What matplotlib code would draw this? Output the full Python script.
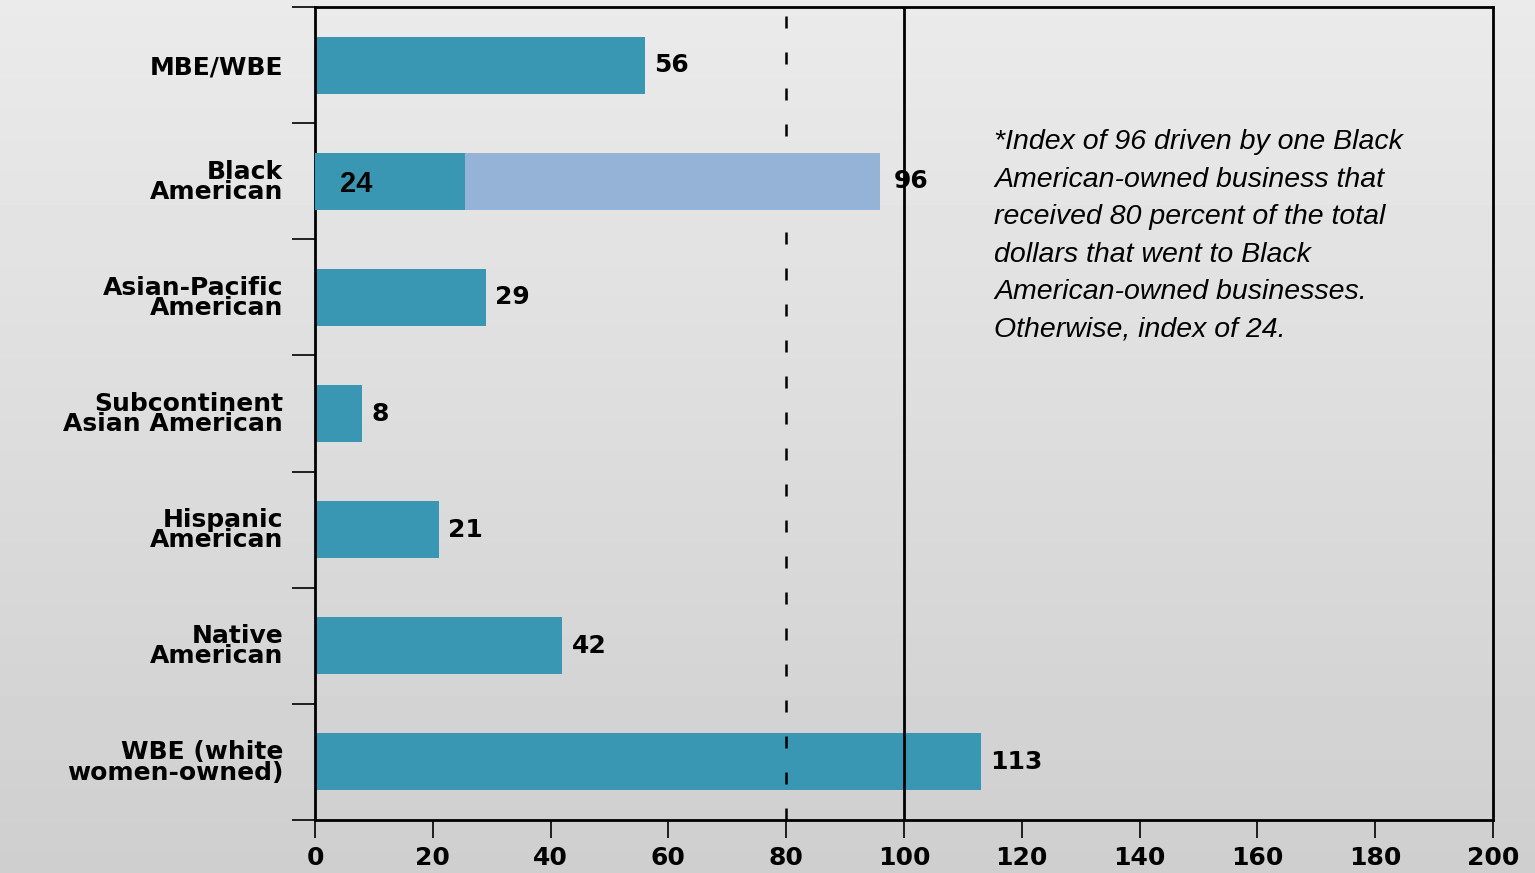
import numpy as np
import matplotlib
matplotlib.use("Agg")
import matplotlib.pyplot as plt

# data
categories = ["MBE/WBE", "Black\nAmerican", "Asian-Pacific\nAmerican",
              "Subcontinent\nAsian American", "Hispanic\nAmerican",
              "Native\nAmerican", "WBE (white\nwomen-owned)"]
values = [56, 96, 29, 8, 21, 42, 113]
black_adjusted = 25.5      # drawn length of the dark segment in row 2
black_adjusted_label = "24"
x_ticks = [0, 20, 40, 60, 80, 100, 120, 140, 160, 180, 200]
note = ("*Index of 96 driven by one Black\n"
        "American-owned business that\n"
        "received 80 percent of the total\n"
        "dollars that went to Black\n"
        "American-owned businesses.\n"
        "Otherwise, index of 24.")

TEAL = "#3a97b4"
LIGHT = "#95b2d7"

fig = plt.figure(figsize=(15.35, 8.73), dpi=100)

# grey gradient background
bg = fig.add_axes([0, 0, 1, 1], zorder=-10)
grad = np.linspace(0.92, 0.81, 256).reshape(-1, 1)
bg.imshow(grad, aspect="auto", cmap="gray", vmin=0, vmax=1, extent=[0, 1, 0, 1])
bg.axis("off")

ax = fig.add_axes([315 / 1535, 1 - 820 / 873, (1493 - 315) / 1535, (820 - 7) / 873])
ax.set_facecolor("none")

y = np.arange(len(categories))
bar_h = 0.49

# teal bars (Black American row gets the light full bar + dark adjusted part)
for i, v in enumerate(values):
    if i == 1:
        ax.barh(i, v, height=bar_h, color=LIGHT, zorder=3)
        ax.barh(i, black_adjusted, height=bar_h, color=TEAL, zorder=3.5)
    else:
        ax.barh(i, v, height=bar_h, color=TEAL, zorder=2)

# reference lines
ax.axvline(80, color="black", lw=1.8, ls=(0, (4.8, 9.6)), zorder=2.5)
ax.axvline(100, color="black", lw=2, zorder=4)

# value labels
for i, v in enumerate(values):
    off = 2.2 if i == 1 else 1.6
    ax.text(v + off, i, str(v), va="center", ha="left", fontsize=18,
            fontweight="bold", family="DejaVu Sans", zorder=5)
ax.text(4.3, 1.02, black_adjusted_label, va="center", ha="left", fontsize=21,
        fontweight="bold", family="Liberation Sans", zorder=5)

ax.text(115.3, 0.55, note, va="top", ha="left", fontsize=20.5, style="italic",
        family="Liberation Sans", linespacing=1.58)

ax.set_xlim(0, 200)
ax.set_ylim(len(categories) - 0.5, -0.5)
ax.set_xticks(x_ticks)
ax.set_xticklabels([str(t) for t in x_ticks], fontsize=18, fontweight="bold")
ax.tick_params(axis="x", length=13, width=1.2, pad=6)

ax.set_yticks(np.arange(len(categories) + 1) - 0.5)
ax.set_yticklabels([])
ax.tick_params(axis="y", which="major", length=16.5, width=1.2)
ax.set_yticks(y, minor=True)
ax.set_yticklabels(categories, minor=True, fontsize=18, fontweight="bold",
                   linespacing=0.8)
ax.tick_params(axis="y", which="minor", length=0, pad=23)

for s in ax.spines.values():
    s.set_linewidth(2)
    s.set_color("black")

fig.savefig("out.png", dpi=100)
